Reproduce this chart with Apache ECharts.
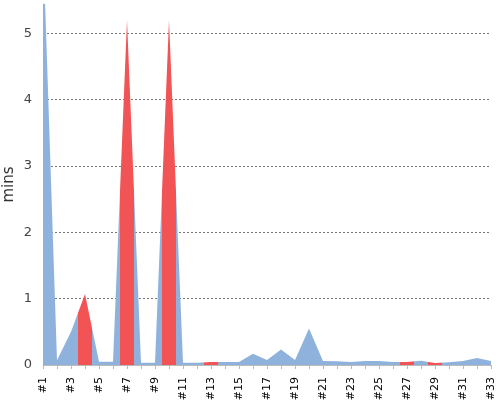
<!DOCTYPE html>
<html>
<head>
<meta charset="utf-8">
<script src="https://cdn.jsdelivr.net/npm/echarts@6/dist/echarts.min.js"></script>
<style>html,body{margin:0;padding:0;background:#fff}#c{width:500px;height:400px}</style>
</head>
<body>
<div id="c"></div>
<script>
var categories = ['#1','#2','#3','#4','#5','#6','#7','#8','#9','#10','#11','#12','#13','#14','#15','#16','#17','#18','#19','#20','#21','#22','#23','#24','#25','#26','#27','#28','#29','#30','#31','#32','#33'];
var minutes = [6.4,0.07,0.5,1.07,0.05,0.05,5.2,0.035,0.035,5.2,0.035,0.035,0.045,0.045,0.045,0.17,0.075,0.235,0.075,0.55,0.06,0.055,0.045,0.06,0.06,0.045,0.045,0.065,0.03,0.04,0.06,0.105,0.06];
var highlighted = [3,6,9,12,26,28];
var yTicks = [0,1,2,3,4,5];

var seriesData = minutes.map(function(v, i){ return [i, v]; });
var pieces = highlighted.map(function(i){ return {gte: i-0.5, lt: i+0.5, color: '#f25355'}; });

var chart = echarts.init(document.getElementById('c'));
chart.setOption({
  animation: false,
  grid: {left: 43, right: 9, top: 4, bottom: 35, outerBoundsMode: 'none', containLabel: false},
  visualMap: {
    show: false, type: 'piecewise', dimension: 0, seriesIndex: 0,
    pieces: pieces,
    outOfRange: {color: '#8fb2dc'}
  },
  xAxis: {
    type: 'value', min: 0, max: categories.length - 1, interval: 1, offset: 3,
    splitLine: {show: false},
    axisLine: {lineStyle: {color: '#bbbbbb'}},
    axisTick: {show: true, length: 4, lineStyle: {color: '#bbbbbb'}},
    axisLabel: {rotate: 90, color: '#000', fontFamily: 'DejaVu Sans', fontSize: 11, margin: 9,
      showMinLabel: true, showMaxLabel: true,
      formatter: function(v){ return (v % 2 === 0) ? categories[v] : ''; }}
  },
  yAxis: {
    type: 'value', min: 0, max: 5.44, interval: 1, offset: 4,
    name: 'mins', nameLocation: 'middle', nameGap: 22, nameMoveOverlap: false,
    nameTextStyle: {color: '#333', fontFamily: 'DejaVu Sans', fontSize: 15},
    axisLine: {show: true, lineStyle: {color: '#bbbbbb', width: 1}},
    axisTick: {show: false},
    axisLabel: {color: '#444', fontFamily: 'DejaVu Sans', fontSize: 13, margin: 7, showMaxLabel: false,
      formatter: function(v){ return yTicks.indexOf(v) >= 0 ? String(v) : ''; }},
    splitLine: {showMaxLine: false, lineStyle: {color: '#777', type: [2,2], width: 1}}
  },
  series: [{
    type: 'line', data: seriesData, symbol: 'none',
    lineStyle: {width: 0},
    areaStyle: {opacity: 1},
    clip: true
  }]
});
</script>
</body>
</html>
